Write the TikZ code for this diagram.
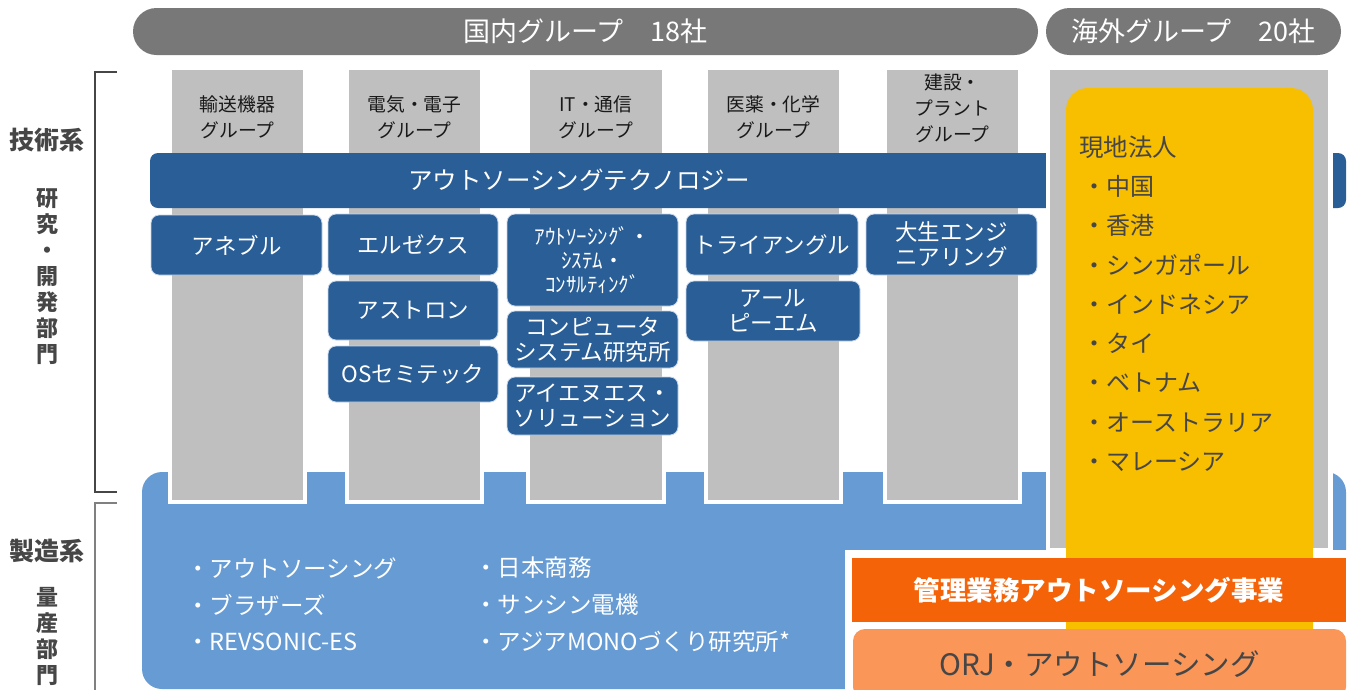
\documentclass[tikz,border=0pt]{standalone}
\usepackage{fontspec}
\newfontfamily\jpfont{Noto Sans CJK JP}
\definecolor{hdrgray}{RGB}{120,120,120}
\definecolor{colgray}{RGB}{191,191,191}
\definecolor{darkblue}{RGB}{42,94,150}
\definecolor{lightblue}{RGB}{102,155,212}
\definecolor{gold}{RGB}{248,190,0}
\definecolor{deeporange}{RGB}{245,99,8}
\definecolor{softorange}{RGB}{249,150,88}
\definecolor{txtgray}{RGB}{70,70,70}
\definecolor{boxedge}{RGB}{200,215,235}

\begin{document}
\begin{tikzpicture}[x=1pt,y=-1pt,
  pill/.style={fill=hdrgray, text=white, rounded corners=23.5pt, minimum height=47, inner sep=0pt, font=\jpfont\fontsize{27}{30}\selectfont},
  column/.style={fill=colgray, draw=white, line width=4pt, inner sep=0pt},
  grouptext/.style={align=center, text=black!90, font=\jpfont\fontsize{18.8}{26}\selectfont},
  company/.style={fill=darkblue, draw=boxedge, line width=0.8pt, rounded corners=8pt, text=white, align=center, inner sep=0pt, font=\jpfont\fontsize{22.5}{25}\selectfont},
  sidetext/.style={align=center, text=txtgray, font=\jpfont\bfseries\fontsize{25}{26}\selectfont},
  listtext/.style={anchor=west, inner sep=0pt, text=white, font=\jpfont\fontsize{23.5}{25}\selectfont},
  citytext/.style={anchor=west, inner sep=0pt, text=txtgray, font=\jpfont\fontsize{24}{26}\selectfont}
]
\useasboundingbox (0,0) rectangle (1353,689);

% Headers
\node[pill, minimum width=905] (domestic) at (585.5,31.5) {国内グループ　18社};
\node[pill, minimum width=295] (overseas) at (1193.5,31.5) {海外グループ　20社};

% Brackets and side labels
\draw[txtgray, line width=1.4pt] (117,72) -- (95,72) -- (95,492) -- (117,492);
\draw[gray, line width=1.4pt] (117,503) -- (95,503) -- (95,700);
\node[sidetext] (tech) at (47,140) {技術系};
\node[sidetext, font=\jpfont\bfseries\fontsize{22}{26}\selectfont] (rnd) at (47,277) {研\\究\\・\\開\\発\\部\\門};
\node[sidetext] (mfg) at (47,551) {製造系};
\node[sidetext, font=\jpfont\bfseries\fontsize{22}{26}\selectfont] (mass) at (47,636) {量\\産\\部\\門};

% Manufacturing area
\fill[lightblue, rounded corners=20pt] (142,472) rectangle (1346,689);

% Domestic group columns
\foreach \cx/\cw [count=\k] in {237.5/135,414.5/135,596/136,773.5/135,952.5/135}
  \node[column, minimum width=\cw, minimum height=434] (col\k) at (\cx,285) {};
\node[grouptext] (transport) at (237.5,117) {輸送機器\\グループ};
\node[grouptext] (electric) at (414.5,117) {電気・電子\\グループ};
\node[grouptext] (itcomm) at (596,117) {IT・通信\\グループ};
\node[grouptext] (pharma) at (773.5,117) {医薬・化学\\グループ};
\node[grouptext] (construct) at (952.5,108) {建設・\\プラント\\グループ};

% Technology bar
\fill[darkblue, rounded corners=8pt] (150,153) rectangle (1346,208);
\node[text=white, font=\jpfont\fontsize{24.5}{28}\selectfont] (techbar) at (579,180) {アウトソーシングテクノロジー};

% Companies
\node[company, minimum width=171, minimum height=60] (anebl) at (236.5,245) {アネブル};
\node[company, minimum width=170, minimum height=61] (elzx) at (413,244.5) {エルゼクス};
\node[company, minimum width=170, minimum height=59] (astron) at (413,310.5) {アストロン};
\node[company, minimum width=170, minimum height=56] (ossemi) at (413,374) {OSセミテック};
\node[company, minimum width=171, minimum height=92, font=\jpfont\fontsize{21}{24}\selectfont] (aosc) at (592.5,260) {ｱｳﾄｿｰｼﾝｸﾞ・\\ｼｽﾃﾑ・\\ｺﾝｻﾙﾃｨﾝｸﾞ};
\node[company, minimum width=171, minimum height=57] (compsys) at (592.5,339.5) {コンピュータ\\システム研究所};
\node[company, minimum width=171, minimum height=58] (ins) at (592.5,406) {アイエヌエス・\\ソリューション};
\node[company, minimum width=172, minimum height=61] (triangle) at (772,244.5) {トライアングル};
\node[company, minimum width=174, minimum height=60] (arpm) at (773,311) {アール\\ピーエム};
\node[company, minimum width=171, minimum height=61] (taisei) at (951.5,244.5) {大生エンジ\\ニアリング};

% Overseas column
\node[column, line width=4.5pt, minimum width=282.5, minimum height=482] (abroad) at (1189.25,309) {};

% Manufacturing companies
\node[listtext] (outsrc) at (186,568) {・アウトソーシング};
\node[listtext] (brothers) at (186,605) {・ブラザーズ};
\node[listtext] (revsonic) at (186,642) {・REVSONIC-ES};
\node[listtext] (nihon) at (474,568) {・日本商務};
\node[listtext] (sanshin) at (474,605) {・サンシン電機};
\node[listtext] (asiamono) at (474,642) {・アジアMONOづくり研究所*};

% Management outsourcing area
\fill[white] (845,550) rectangle (1353,700);
\fill[gold, rounded corners=22pt] (1066,88) rectangle (1313,660);
\node[citytext, font=\jpfont\fontsize{24.5}{26}\selectfont] (local) at (1079,147) {現地法人};
\foreach \place [count=\k] in {中国,香港,シンガポール,インドネシア,タイ,ベトナム,オーストラリア,マレーシア}
  \node[citytext] (city\k) at (1082,{186+39.4*(\k-1)}) {・\place};
\node[fill=deeporange, minimum width=494, minimum height=64, inner sep=0pt, text=white, font=\jpfont\bfseries\fontsize{26.5}{30}\selectfont] (mgmt) at (1099,590) {管理業務アウトソーシング事業};
\node[fill=softorange, rounded corners=12pt, minimum width=493, minimum height=70, inner sep=0pt, text=txtgray, font=\jpfont\fontsize{29.5}{32}\selectfont] (orj) at (1099.5,664) {ORJ・アウトソーシング};
\end{tikzpicture}
\end{document}
